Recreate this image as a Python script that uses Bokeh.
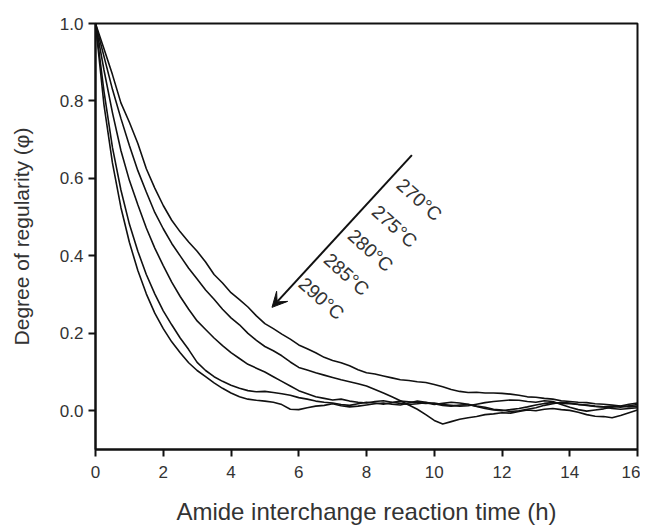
from bokeh.plotting import figure
from bokeh.models import FixedTicker, NumeralTickFormatter, Arrow, VeeHead, Range1d, Label
from bokeh.embed import file_html
from bokeh.resources import INLINE

time_h = [0, 0.25, 0.5, 0.75, 1.0, 1.25, 1.5, 1.75, 2.0, 2.25, 2.5, 2.75, 3.0, 3.25, 3.5, 3.75,
          4.0, 4.25, 4.5, 4.75, 5.0, 5.25, 5.5, 5.75, 6.0, 6.25, 6.5, 6.75, 7.0, 7.25, 7.5, 7.75,
          8.0, 8.25, 8.5, 8.75, 9.0, 9.25, 9.5, 9.75, 10.0, 10.25, 10.5, 10.75, 11.0, 11.25, 11.5, 11.75,
          12.0, 12.25, 12.5, 12.75, 13.0, 13.25, 13.5, 13.75, 14.0, 14.25, 14.5, 14.75, 15.0, 15.25, 15.5, 15.75, 16.0]

phi_270 = [1.000, 0.935, 0.868, 0.795, 0.745, 0.690, 0.625, 0.575, 0.530, 0.492, 0.462, 0.436, 0.412, 0.384, 0.352, 0.330,
           0.305, 0.287, 0.268, 0.245, 0.225, 0.212, 0.198, 0.185, 0.170, 0.160, 0.150, 0.138, 0.130, 0.124, 0.116, 0.106,
           0.098, 0.095, 0.090, 0.085, 0.080, 0.078, 0.075, 0.073, 0.068, 0.062, 0.055, 0.050, 0.047, 0.048, 0.046, 0.046,
           0.045, 0.043, 0.040, 0.036, 0.035, 0.032, 0.030, 0.026, 0.024, 0.022, 0.021, 0.018, 0.017, 0.015, 0.012, 0.010, 0.012]

phi_275 = [1.000, 0.915, 0.830, 0.755, 0.685, 0.620, 0.565, 0.512, 0.470, 0.432, 0.400, 0.368, 0.340, 0.312, 0.288, 0.262,
           0.240, 0.222, 0.200, 0.182, 0.166, 0.155, 0.142, 0.126, 0.112, 0.105, 0.098, 0.092, 0.086, 0.080, 0.075, 0.070,
           0.064, 0.055, 0.046, 0.036, 0.026, 0.015, 0.004, -0.010, -0.025, -0.034, -0.028, -0.022, -0.018, -0.015, -0.010, -0.008,
           -0.005, -0.006, -0.002, 0.002, 0.000, 0.004, 0.006, 0.003, 0.001, -0.004, -0.010, -0.014, -0.015, -0.018, -0.012, -0.005, 0.002]

phi_280 = [1.000, 0.880, 0.770, 0.672, 0.595, 0.532, 0.472, 0.420, 0.375, 0.332, 0.295, 0.262, 0.232, 0.210, 0.188, 0.168,
           0.150, 0.135, 0.120, 0.110, 0.100, 0.088, 0.076, 0.064, 0.052, 0.044, 0.036, 0.032, 0.028, 0.030, 0.025, 0.022,
           0.020, 0.024, 0.026, 0.022, 0.019, 0.016, 0.018, 0.021, 0.016, 0.019, 0.022, 0.020, 0.017, 0.012, 0.009, 0.004,
           0.002, -0.002, 0.000, 0.004, 0.008, 0.014, 0.018, 0.022, 0.020, 0.017, 0.014, 0.011, 0.010, 0.012, 0.009, 0.013, 0.016]

phi_285 = [1.000, 0.825, 0.680, 0.570, 0.482, 0.412, 0.352, 0.302, 0.258, 0.222, 0.188, 0.158, 0.125, 0.104, 0.088, 0.076,
           0.066, 0.058, 0.052, 0.049, 0.050, 0.047, 0.044, 0.040, 0.034, 0.030, 0.025, 0.022, 0.020, 0.016, 0.014, 0.018,
           0.022, 0.020, 0.017, 0.021, 0.025, 0.023, 0.021, 0.019, 0.020, 0.016, 0.014, 0.012, 0.013, 0.017, 0.021, 0.024,
           0.026, 0.028, 0.027, 0.024, 0.022, 0.026, 0.024, 0.016, 0.009, 0.003, -0.001, 0.002, 0.005, 0.009, 0.012, 0.017, 0.020]

phi_290 = [1.000, 0.790, 0.640, 0.525, 0.435, 0.362, 0.302, 0.252, 0.212, 0.178, 0.150, 0.124, 0.104, 0.088, 0.072, 0.058,
           0.046, 0.036, 0.030, 0.027, 0.025, 0.022, 0.016, 0.004, 0.003, 0.008, 0.012, 0.014, 0.018, 0.013, 0.010, 0.012,
           0.015, 0.018, 0.020, 0.017, 0.015, 0.020, 0.025, 0.022, 0.018, 0.014, 0.012, 0.015, 0.016, 0.011, 0.006, 0.002,
           0.000, 0.003, 0.006, 0.010, 0.015, 0.019, 0.021, 0.019, 0.018, 0.016, 0.015, 0.012, 0.010, 0.006, 0.004, 0.006, 0.008]

series = [phi_270, phi_275, phi_280, phi_285, phi_290]
temp_labels = ["270°C", "275°C", "280°C", "285°C", "290°C"]
x_ticks = [0, 2, 4, 6, 8, 10, 12, 14, 16]
y_ticks = [0.0, 0.2, 0.4, 0.6, 0.8, 1.0]
x_title = "Amide interchange reaction time (h)"
y_title = "Degree of regularity (φ)"

# annotation placement (not data)
label_x = [9.56, 8.83, 8.12, 7.41, 6.67]
label_y = [0.545, 0.476, 0.414, 0.352, 0.290]
arrow_start = (9.34, 0.66)
arrow_end = (5.21, 0.267)

FONT = "Liberation Sans"
TXT = "#333333"

p = figure(width=640, height=531, output_backend="svg", toolbar_location=None,
           x_range=Range1d(0, 16), y_range=Range1d(-0.1, 1.0),
           min_border_left=95, min_border_right=3, min_border_top=23, min_border_bottom=82)

for s in series:
    p.line(time_h, s, line_color="#111111", line_width=1.6)

p.grid.visible = False
p.outline_line_color = "#111111"
p.outline_line_width = 2

p.xaxis.ticker = FixedTicker(ticks=x_ticks)
p.yaxis.ticker = FixedTicker(ticks=y_ticks)
p.xaxis.formatter = NumeralTickFormatter(format="0")
p.yaxis.formatter = NumeralTickFormatter(format="0.0")
for ax in (p.xaxis, p.yaxis):
    ax.axis_line_width = 2
    ax.axis_line_color = "#111111"
    ax.major_tick_line_width = 2
    ax.major_tick_line_color = "#111111"
    ax.major_tick_in = 0
    ax.major_tick_out = 7
    ax.minor_tick_line_color = None
    ax.major_label_text_font = FONT
    ax.major_label_text_font_size = "17px"
    ax.major_label_text_color = TXT
    ax.axis_label_text_font = FONT
    ax.axis_label_text_font_style = "normal"
    ax.axis_label_text_color = TXT

p.xaxis.axis_label = x_title
p.yaxis.axis_label = y_title
p.xaxis.axis_label_text_font_size = "24px"
p.yaxis.axis_label_text_font_size = "21px"
p.xaxis.major_label_standoff = 9
p.yaxis.major_label_standoff = 5
p.xaxis.axis_label_standoff = 17
p.yaxis.axis_label_standoff = 24

p.add_layout(Arrow(end=VeeHead(size=15, fill_color="#111111", line_color="#111111"),
                   x_start=arrow_start[0], y_start=arrow_start[1],
                   x_end=arrow_end[0], y_end=arrow_end[1],
                   line_width=2, line_color="#111111"))

for lx, ly, t in zip(label_x, label_y, temp_labels):
    p.add_layout(Label(x=lx, y=ly, text=t, angle=-0.73, text_align="center", text_baseline="middle",
                       text_font=FONT, text_font_size="19px", text_color=TXT))

open("out.html", "w").write(file_html(p, INLINE))
